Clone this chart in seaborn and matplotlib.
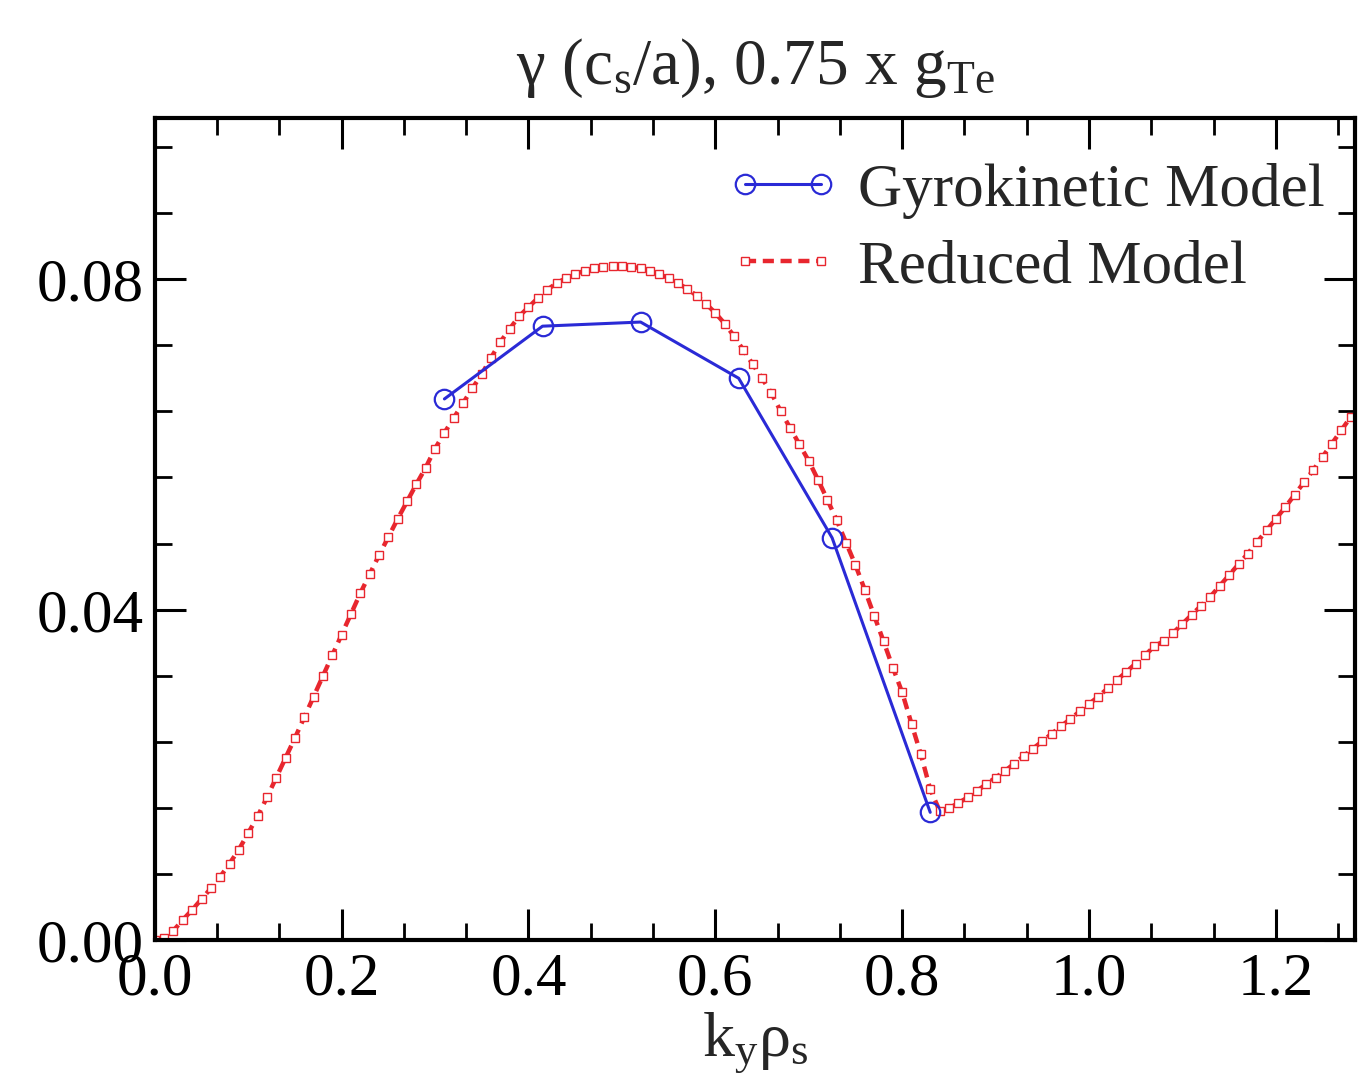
import numpy as np
import pandas as pd
import matplotlib
matplotlib.use("Agg")
import matplotlib.pyplot as plt
import seaborn as sns
from matplotlib.ticker import MultipleLocator, FormatStrFormatter

# ---- data ----
gk_k = [0.31, 0.415, 0.52, 0.625, 0.725, 0.83]
gk_gamma = [0.0655, 0.0743, 0.0748, 0.0680, 0.0487, 0.0155]

red_k = [round(0.01 * i, 2) for i in range(129)]
red_gamma = [
    0.0000, 0.0003, 0.0012, 0.0025, 0.0037, 0.0050, 0.0063, 0.0077, 0.0093, 0.0110,
    0.0130, 0.0150, 0.0173, 0.0197, 0.0221, 0.0245, 0.0270, 0.0295, 0.0320, 0.0345,
    0.0370, 0.0395, 0.0420, 0.0443, 0.0466, 0.0488, 0.0510, 0.0531, 0.0552, 0.0572,
    0.0595, 0.0614, 0.0632, 0.0650, 0.0668, 0.0685, 0.0705, 0.0724, 0.0740, 0.0755,
    0.0766, 0.0777, 0.0787, 0.0795, 0.0801, 0.0806, 0.0810, 0.0813, 0.0815, 0.0816,
    0.0816, 0.0815, 0.0813, 0.0810, 0.0806, 0.0801, 0.0795, 0.0788, 0.0780, 0.0770,
    0.0759, 0.0746, 0.0731, 0.0714, 0.0697, 0.0680, 0.0662, 0.0640, 0.0620, 0.0600,
    0.0580, 0.0557, 0.0533, 0.0508, 0.0481, 0.0454, 0.0424, 0.0393, 0.0362, 0.0330,
    0.0300, 0.0262, 0.0225, 0.0183, 0.0157, 0.0160, 0.0166, 0.0173, 0.0181, 0.0189,
    0.0197, 0.0205, 0.0214, 0.0223, 0.0232, 0.0241, 0.0250, 0.0259, 0.0268, 0.0277,
    0.0286, 0.0295, 0.0305, 0.0315, 0.0325, 0.0335, 0.0345, 0.0356, 0.0362, 0.0372,
    0.0383, 0.0394, 0.0405, 0.0416, 0.0429, 0.0442, 0.0455, 0.0468, 0.0482, 0.0496,
    0.0510, 0.0524, 0.0539, 0.0554, 0.0569, 0.0585, 0.0601, 0.0617, 0.0633,
]

title_text = r"$\gamma\ (c_s/a)$, 0.75 x g$_{\mathrm{Te}}$"
xlabel_text = r"$k_y\rho_s$"
labels = ["Gyrokinetic Model", "Reduced Model"]

# ---- style ----
sns.set_theme(style="white")
plt.rcParams["font.family"] = ["Liberation Serif", "DejaVu Serif"]
plt.rcParams["mathtext.fontset"] = "custom"
plt.rcParams["mathtext.rm"] = "Liberation Serif"
plt.rcParams["mathtext.it"] = "Liberation Serif"
plt.rcParams["mathtext.default"] = "regular"

fig = plt.figure(figsize=(13.58, 10.81), dpi=100)
ax = fig.add_axes([0.114, 0.130, 0.884, 0.761])

red_df = pd.DataFrame({"k": red_k, "g": red_gamma})
gk_df = pd.DataFrame({"k": gk_k, "g": gk_gamma})

sns.lineplot(data=red_df, x="k", y="g", ax=ax, color="#e8262e", linestyle=(0, (2.5, 1.5)),
             linewidth=3.2, marker="s", markersize=5.5, markerfacecolor="white",
             markeredgecolor="#e8262e", markeredgewidth=1.0, label=labels[1], zorder=2)
sns.lineplot(data=gk_df, x="k", y="g", ax=ax, color="#2a2ad6", linewidth=2.2,
             marker="o", markersize=14, markerfacecolor="none",
             markeredgecolor="#2a2ad6", markeredgewidth=1.6, label=labels[0], zorder=3)

ax.set_xlim(0, 1.285)
ax.set_ylim(0, 0.0995)
ax.xaxis.set_major_locator(MultipleLocator(0.2))
ax.xaxis.set_minor_locator(MultipleLocator(0.2 / 3))
ax.yaxis.set_major_locator(MultipleLocator(0.04))
ax.yaxis.set_minor_locator(MultipleLocator(0.008))
ax.xaxis.set_major_formatter(FormatStrFormatter("%.1f"))
ax.yaxis.set_major_formatter(FormatStrFormatter("%.2f"))

ax.tick_params(which="both", direction="in", top=True, right=True, bottom=True, left=True,
               labelsize=44, colors="black")
ax.tick_params(which="major", length=22, width=2.2, pad=8)
ax.tick_params(which="minor", length=12, width=2.0)
for s in ax.spines.values():
    s.set_linewidth(3)
    s.set_color("black")

ax.set_title(title_text, fontsize=47, pad=24)
ax.set_xlabel(xlabel_text, fontsize=46, labelpad=2)
ax.set_ylabel("")

handles, labs = ax.get_legend_handles_labels()
order = [labs.index(labels[0]), labs.index(labels[1])]
leg = ax.legend([handles[i] for i in order], [labs[i] for i in order],
                loc="upper right", frameon=False, fontsize=44, numpoints=2,
                handlelength=1.85, handletextpad=0.3, labelspacing=0.35,
                borderaxespad=0.2, bbox_to_anchor=(1.005, 0.99))

fig.savefig("out.png", dpi=100, facecolor="white")
